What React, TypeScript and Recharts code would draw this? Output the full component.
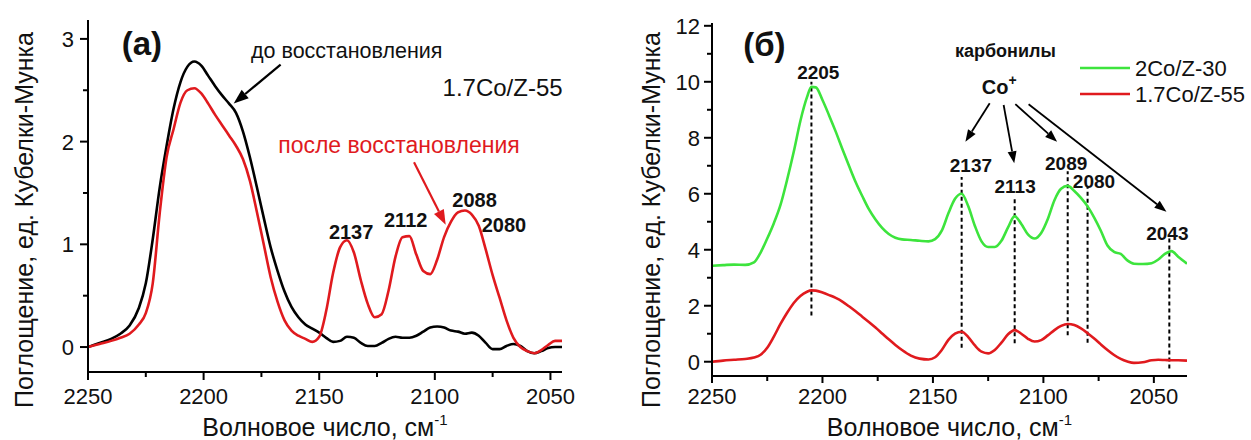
import React from 'react';
import { LineChart, Line, XAxis, YAxis, ReferenceLine, ReferenceDot } from 'recharts';

const FONT = "'Liberation Sans', Arial, Helvetica, sans-serif";
const RED = '#e01a1e';
const GREEN = '#3de43d';
const BLACK = '#000000';

// ---------------- Panel (а) data ----------------
const wavenumbersA = [
  2250, 2245, 2240, 2236, 2232, 2228, 2225, 2222, 2219, 2216,
  2213, 2210, 2207, 2204, 2201, 2198, 2195, 2192, 2189, 2186,
  2183, 2180, 2177, 2174, 2171, 2168, 2165, 2162, 2159, 2156,
  2153, 2150, 2147, 2144, 2141, 2138, 2135, 2132, 2129, 2126,
  2123, 2120, 2117, 2114, 2111, 2108, 2105, 2102, 2099, 2096,
  2093, 2090, 2087, 2084, 2081, 2078, 2075, 2072, 2069, 2066,
  2063, 2060, 2057, 2054, 2051, 2048, 2045,
];
const beforeReduction = [
  0.0, 0.04, 0.08, 0.13, 0.21, 0.38, 0.62, 1.05, 1.55, 1.96,
  2.32, 2.58, 2.73, 2.78, 2.74, 2.64, 2.54, 2.45, 2.37, 2.28,
  2.1, 1.85, 1.56, 1.26, 0.97, 0.74, 0.54, 0.39, 0.29, 0.22,
  0.18, 0.14, 0.09, 0.05, 0.06, 0.1, 0.09, 0.04, 0.01, 0.01,
  0.04, 0.08, 0.1, 0.09, 0.09, 0.11, 0.15, 0.19, 0.2, 0.19,
  0.16, 0.15, 0.13, 0.14, 0.11, 0.04, -0.02, -0.02, 0.01, 0.03,
  0.01, -0.04, -0.06, -0.04, -0.01, 0.0, 0.0,
];
const afterReduction = [
  0.0, 0.03, 0.06, 0.09, 0.13, 0.22, 0.33, 0.62, 1.3, 1.85,
  2.12, 2.38, 2.5, 2.52, 2.47, 2.37, 2.26, 2.16, 2.06, 1.96,
  1.83, 1.62, 1.32, 1.0, 0.68, 0.44, 0.26, 0.16, 0.11, 0.08,
  0.05, 0.1, 0.35, 0.72, 0.97, 1.04, 0.92, 0.65, 0.42, 0.29,
  0.32, 0.55, 0.88, 1.07, 1.08, 0.9, 0.74, 0.71, 0.85, 1.07,
  1.22, 1.31, 1.33, 1.29, 1.18, 0.95, 0.7, 0.48, 0.26, 0.09,
  0.0, -0.04, -0.06, -0.03, 0.02, 0.06, 0.06,
];
const xTicksA = [2250, 2225, 2200, 2175, 2150, 2125, 2100, 2075, 2050];
const yTicksA = [0, 0.5, 1, 1.5, 2, 2.5, 3];
const peakLabelsA = ['2137', '2112', '2088', '2080'];

// ---------------- Panel (б) data ----------------
const wavenumbersB = [
  2250, 2245, 2240, 2235, 2231, 2228, 2225, 2222, 2219, 2216,
  2213, 2210, 2207, 2205, 2203, 2200, 2197, 2194, 2191, 2188,
  2185, 2182, 2179, 2176, 2173, 2170, 2167, 2164, 2160, 2156,
  2152, 2149, 2146, 2143, 2140, 2137, 2134, 2131, 2128, 2125,
  2122, 2119, 2116, 2113, 2110, 2107, 2104, 2101, 2098, 2095,
  2092, 2089, 2086, 2083, 2080, 2077, 2074, 2071, 2068, 2065,
  2062, 2059, 2055, 2051, 2048, 2045, 2042, 2039, 2035,
];
const series2CoZ30 = [
  3.43, 3.45, 3.47, 3.46, 3.55, 3.9, 4.4, 4.95, 5.6, 6.5,
  7.5, 8.6, 9.45, 9.82, 9.8, 9.35, 8.8, 8.22, 7.6, 7.0,
  6.42, 5.92, 5.45, 5.08, 4.78, 4.56, 4.43, 4.37, 4.35, 4.32,
  4.3, 4.38, 4.68, 5.3, 5.82, 6.0, 5.55, 4.85, 4.3, 4.1,
  4.1, 4.32, 4.8, 5.2, 4.92, 4.55, 4.4, 4.6, 5.1, 5.77,
  6.18, 6.28, 6.1, 5.85, 5.55, 5.15, 4.68, 4.15, 3.92, 3.85,
  3.62, 3.5, 3.49, 3.52, 3.65, 3.85, 3.95, 3.75, 3.5,
];
const series17CoZ55 = [
  0.0, 0.04, 0.07, 0.1, 0.15, 0.25, 0.5, 0.9, 1.35, 1.75,
  2.1, 2.35, 2.5, 2.55, 2.54, 2.47, 2.38, 2.28, 2.15, 1.98,
  1.8, 1.61, 1.42, 1.22, 1.01, 0.8, 0.6, 0.42, 0.22, 0.11,
  0.08, 0.16, 0.42, 0.78, 1.0, 1.07, 0.88, 0.58, 0.36, 0.3,
  0.42, 0.68, 0.98, 1.13, 1.0, 0.82, 0.72, 0.77, 0.94, 1.13,
  1.28, 1.35, 1.31, 1.19, 1.02, 0.83, 0.62, 0.42, 0.24, 0.1,
  0.01, -0.04, -0.02, 0.05, 0.07, 0.06, 0.05, 0.05, 0.04,
];
const seriesNamesB = ['2Co/Z-30', '1.7Co/Z-55'];
const xTicksB = [2250, 2225, 2200, 2175, 2150, 2125, 2100, 2075, 2050];
const yTicksB = [0, 1, 2, 3, 4, 5, 6, 7, 8, 9, 10, 11, 12];
const markedBandsB = [2205, 2137, 2113, 2089, 2080, 2043];

const dataA = wavenumbersA.map((w, i) => ({ w, before: beforeReduction[i], after: afterReduction[i] }));
const dataB = wavenumbersB.map((w, i) => ({ w, g: series2CoZ30[i], r: series17CoZ55[i] }));

// ---------------- helpers ----------------
const makeXTick = (len: number, minorLen: number, gap: number) => (props: any) => {
  const { x, y, payload } = props;
  const v = payload.value;
  const major = v % 50 === 0;
  return (
    <g>
      <line x1={x} x2={x} y1={y} y2={y + (major ? len : minorLen)} stroke={BLACK} strokeWidth={2} />
      {major && (
        <text x={x} y={y + len + gap} dy="0.72em" textAnchor="middle" fontFamily={FONT} fontSize={22} fill="#111">
          {v}
        </text>
      )}
    </g>
  );
};

const makeYTick = (len: number, minorLen: number, gap: number, step: number) => (props: any) => {
  const { x, y, payload } = props;
  const v = payload.value;
  const major = Math.abs(v / step - Math.round(v / step)) < 1e-6;
  return (
    <g>
      <line x1={x - (major ? len : minorLen)} x2={x} y1={y} y2={y} stroke={BLACK} strokeWidth={2} />
      {major && (
        <text x={x - len - gap} y={y} dy="0.36em" textAnchor="end" fontFamily={FONT} fontSize={22} fill="#111">
          {v}
        </text>
      )}
    </g>
  );
};

const makeXTitle = (baseline: number) => (props: any) => {
  const vb = props.viewBox || { x: 0, width: 0 };
  return (
    <text x={vb.x + vb.width / 2} y={baseline} textAnchor="middle" fontFamily={FONT} fontSize={25} fill="#111">
      <tspan>Волновое число, см</tspan>
      <tspan dy={-11} fontSize={15}>-1</tspan>
    </text>
  );
};

const makeYTitle = (dx: number, cy: number) => (props: any) => {
  const vb = props.viewBox || { x: 0, width: 0 };
  const cx = vb.x + vb.width - dx;
  return (
    <text
      x={cx}
      y={cy}
      transform={`rotate(-90 ${cx} ${cy})`}
      textAnchor="middle"
      dy="0.35em"
      fontFamily={FONT}
      fontSize={25}
      fill="#111"
    >
      Поглощение, ед. Кубелки-Мунка
    </text>
  );
};

const textShape = (content: React.ReactNode, size: number, bold: boolean, color: string) => (p: any) => (
  <text
    x={p.cx}
    y={p.cy}
    dy="0.35em"
    textAnchor="middle"
    fontFamily={FONT}
    fontSize={size}
    fontWeight={bold ? 'bold' : 'normal'}
    fill={color}
  >
    {content}
  </text>
);

const arrowShape = (color: string, width: number, headLen: number, headW: number) => (p: any) => {
  const { x1, y1, x2, y2 } = p;
  const dx = x2 - x1;
  const dy = y2 - y1;
  const L = Math.hypot(dx, dy) || 1;
  const ux = dx / L;
  const uy = dy / L;
  const bx = x2 - ux * headLen;
  const by = y2 - uy * headLen;
  const px = (-uy * headW) / 2;
  const py = (ux * headW) / 2;
  return (
    <g>
      <line x1={x1} y1={y1} x2={bx} y2={by} stroke={color} strokeWidth={width} />
      <polygon points={`${x2},${y2} ${bx + px},${by + py} ${bx - px},${by - py}`} fill={color} />
    </g>
  );
};

const Txt = (x: number, y: number, content: React.ReactNode, size: number, bold: boolean, color = '#111') => (
  <ReferenceDot
    key={`t-${x}-${y}`}
    x={x}
    y={y}
    r={0}
    ifOverflow="visible"
    shape={textShape(content, size, bold, color)}
  />
);

const Arrow = (xa: number, ya: number, xb: number, yb: number, color: string, w = 2, hl = 14, hw = 10) => (
  <ReferenceLine
    key={`a-${xa}-${ya}-${xb}`}
    segment={[
      { x: xa, y: ya },
      { x: xb, y: yb },
    ]}
    ifOverflow="visible"
    shape={arrowShape(color, w, hl, hw)}
  />
);

const dashSpansB = [
  [1.65, 10.0],
  [0.5, 6.6],
  [0.66, 5.9],
  [0.95, 6.8],
  [0.68, 6.25],
  [-0.24, 4.4],
];

export default function App() {
  return (
    <div
      style={{
        position: 'absolute',
        left: 0,
        top: 0,
        width: 1251,
        height: 440,
        background: '#fff',
        fontFamily: FONT,
        overflow: 'hidden',
      }}
    >
      {/* ---------- Panel (а) ---------- */}
      <div style={{ position: 'absolute', left: 0, top: 0, width: 620, height: 440 }}>
        <LineChart width={620} height={440} data={dataA} margin={{ top: 20, right: 58, bottom: 38, left: 28 }}>
          <XAxis
            dataKey="w"
            type="number"
            domain={[2045, 2250]}
            reversed
            allowDataOverflow
            ticks={xTicksA}
            interval={0}
            height={30}
            tickSize={0}
            tickMargin={0}
            tickLine={false}
            axisLine={{ stroke: BLACK, strokeWidth: 2 }}
            tick={makeXTick(8, 5, 8)}
            label={{ content: makeXTitle(436) }}
          />
          <YAxis
            type="number"
            domain={[-0.243, 3.184]}
            allowDataOverflow
            ticks={yTicksA}
            interval={0}
            width={60}
            tickSize={0}
            tickMargin={0}
            tickLine={false}
            axisLine={{ stroke: BLACK, strokeWidth: 2 }}
            tick={makeYTick(8, 5, 6, 1)}
            label={{ content: makeYTitle(64, 220) }}
          />
          <Line type="monotone" dataKey="before" stroke={BLACK} strokeWidth={2.6} dot={false} isAnimationActive={false} />
          <Line type="monotone" dataKey="after" stroke={RED} strokeWidth={2.6} dot={false} isAnimationActive={false} />

          {Txt(2226.7, 2.96, '(а)', 33, true)}
          {Txt(2138.1, 2.89, 'до восстановления', 21.5, false)}
          {Txt(2070.7, 2.53, '1.7Co/Z-55', 24, false)}
          {Txt(2115.5, 1.97, 'после восстановления', 23, false, RED)}
          {Txt(2136.2, 1.12, peakLabelsA[0], 20, true)}
          {Txt(2112.6, 1.24, peakLabelsA[1], 20, true)}
          {Txt(2082.8, 1.43, peakLabelsA[2], 20, true)}
          {Txt(2070.1, 1.19, peakLabelsA[3], 20, true)}
          {Arrow(2166.7, 2.75, 2187, 2.37, BLACK, 2.2, 15, 11)}
          {Arrow(2109, 1.8, 2095.3, 1.19, RED, 2.2, 15, 11)}
        </LineChart>
      </div>

      {/* ---------- Panel (б) ---------- */}
      <div style={{ position: 'absolute', left: 628, top: 0, width: 623, height: 440 }}>
        <LineChart width={623} height={440} data={dataB} margin={{ top: 23, right: 64, bottom: 34, left: 24 }}>
          <XAxis
            dataKey="w"
            type="number"
            domain={[2035, 2250]}
            reversed
            allowDataOverflow
            ticks={xTicksB}
            interval={0}
            height={30}
            tickSize={0}
            tickMargin={0}
            tickLine={false}
            axisLine={{ stroke: BLACK, strokeWidth: 2 }}
            tick={makeXTick(7, 5, 5)}
            label={{ content: makeXTitle(436) }}
          />
          <YAxis
            type="number"
            domain={[-0.51, 12.1]}
            allowDataOverflow
            ticks={yTicksB}
            interval={0}
            width={60}
            tickSize={0}
            tickMargin={0}
            tickLine={false}
            axisLine={{ stroke: BLACK, strokeWidth: 2 }}
            tick={makeYTick(8, 5, 4, 2)}
            label={{ content: makeYTitle(61, 220) }}
          />
          {markedBandsB.map((b, i) => (
            <ReferenceLine
              key={`d-${b}`}
              segment={[
                { x: b, y: dashSpansB[i][0] },
                { x: b, y: dashSpansB[i][1] },
              ]}
              stroke={BLACK}
              strokeWidth={2}
              strokeDasharray="4 3"
            />
          ))}
          <Line type="monotone" dataKey="g" name={seriesNamesB[0]} stroke={GREEN} strokeWidth={2.6} dot={false} isAnimationActive={false} />
          <Line type="monotone" dataKey="r" name={seriesNamesB[1]} stroke={RED} strokeWidth={2.6} dot={false} isAnimationActive={false} />

          {Txt(2226.3, 11.35, '(б)', 33, true)}
          {Txt(2201.9, 10.32, String(markedBandsB[0]), 19, true)}
          {Txt(2132.8, 7.0, String(markedBandsB[1]), 19, true)}
          {Txt(2112.8, 6.27, String(markedBandsB[2]), 19, true)}
          {Txt(2089.7, 7.1, String(markedBandsB[3]), 19, true)}
          {Txt(2077.1, 6.46, String(markedBandsB[4]), 19, true)}
          {Txt(2043.9, 4.6, String(markedBandsB[5]), 19, true)}
          {Txt(2117.2, 11.1, 'карбонилы', 18, true)}
          {Txt(
            2120,
            9.8,
            <>
              <tspan>Co</tspan>
              <tspan dy={-9} fontSize={14}>
                +
              </tspan>
            </>,
            20,
            true
          )}
          {Arrow(2124.3, 9.23, 2135.3, 7.86, BLACK, 1.8, 12, 9)}
          {Arrow(2118, 9.17, 2113.2, 7.09, BLACK, 1.8, 12, 9)}
          {Arrow(2112.7, 9.2, 2093.8, 7.86, BLACK, 1.8, 12, 9)}
          {Arrow(2106.7, 9.2, 2044.3, 5.36, BLACK, 1.8, 12, 9)}
        </LineChart>
      </div>

      {/* Legend for panel (б) */}
      <svg style={{ position: 'absolute', left: 1075, top: 52, overflow: 'visible' }} width={176} height={56}>
        {seriesNamesB.map((name, i) => (
          <g key={name}>
            <line x1={5} x2={55} y1={16 + i * 26} y2={16 + i * 26} stroke={i === 0 ? GREEN : RED} strokeWidth={2.6} />
            <text x={60} y={16 + i * 26} dy="0.36em" fontFamily={FONT} fontSize={22} fill="#111">
              {name}
            </text>
          </g>
        ))}
      </svg>
    </div>
  );
}
